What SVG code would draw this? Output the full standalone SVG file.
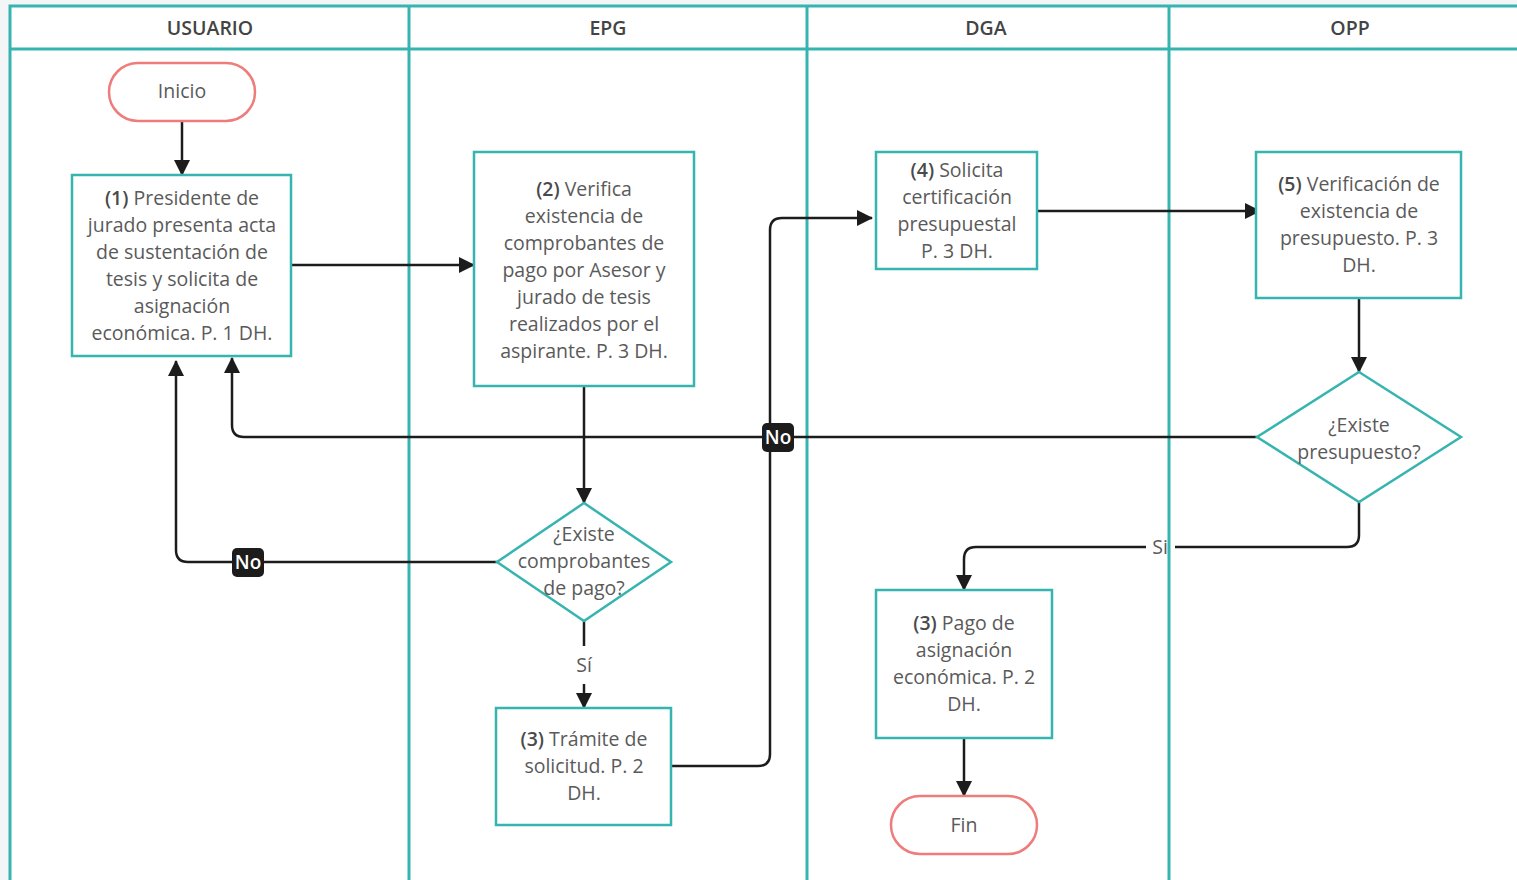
<svg xmlns="http://www.w3.org/2000/svg" width="1517" height="880" viewBox="0 0 1517 880">
<defs>
<style>
.lane{fill:none;stroke:#36b4af;stroke-width:3}
.hdr{font-family:"Open Sans","Noto Sans",sans-serif;font-size:19.5px;font-weight:600;fill:#444;text-anchor:middle}
.box{fill:#fff;stroke:#36b4af;stroke-width:2.5}
.term{fill:#fff;stroke:#f07b7b;stroke-width:2.5}
.t{font-family:"Open Sans","Noto Sans",sans-serif;font-size:19.5px;fill:#5a5a5a;text-anchor:middle}
.b{font-weight:600;fill:#4a4a4a}
.c{fill:none;stroke:#1c1c1c;stroke-width:2.5}
.lblbox{fill:#1c1c1c}
.lbl{font-family:"Open Sans","Noto Sans",sans-serif;font-size:19px;font-weight:600;fill:#fff;text-anchor:middle}
.lbl2{font-family:"Open Sans","Noto Sans",sans-serif;font-size:19.5px;fill:#5a5a5a;text-anchor:middle}
</style>
<marker id="ah" markerUnits="userSpaceOnUse" markerWidth="16" markerHeight="16" viewBox="0 0 16 16" refX="15" refY="8" orient="auto">
<path d="M0,0 L16,8 L0,16 z" fill="#1c1c1c"/>
</marker>
</defs>
<rect x="0" y="0" width="1517" height="880" fill="#f4f5f7"/>
<rect x="10" y="6" width="1507" height="874" fill="#fff"/>
<g id="lanes">
<path class="lane" d="M10,880 V6 H1517"/>
<path class="lane" d="M10,49 H1517"/>
<path class="lane" d="M409,6 V880 M807,6 V880 M1169,6 V880"/>
<text class="hdr" x="210" y="35">USUARIO</text>
<text class="hdr" x="608" y="35">EPG</text>
<text class="hdr" x="986" y="35">DGA</text>
<text class="hdr" x="1350" y="35">OPP</text>
</g>
<g id="connectors">
<path class="c" d="M182,121 V175" marker-end="url(#ah)"/>
<path class="c" d="M291,265 H474" marker-end="url(#ah)"/>
<path class="c" d="M584,386 V503" marker-end="url(#ah)"/>
<path class="c" d="M497,562 H188 Q176,562 176,550 V361" marker-end="url(#ah)"/>
<path class="c" d="M584,621 V646"/>
<path class="c" d="M584,684 V708" marker-end="url(#ah)"/>
<path class="c" d="M671,766 H758 Q770,766 770,754 V230 Q770,218 782,218 H872" marker-end="url(#ah)"/>
<path class="c" d="M1037,211 H1260" marker-end="url(#ah)"/>
<path class="c" d="M1359,298 V372" marker-end="url(#ah)"/>
<path class="c" d="M1257,437 H244 Q232,437 232,425 V358" marker-end="url(#ah)"/>
<path class="c" d="M1359,502 V535 Q1359,547 1347,547 H1175"/>
<path class="c" d="M1146,547 H976 Q964,547 964,559 V590" marker-end="url(#ah)"/>
<path class="c" d="M964,738 V796" marker-end="url(#ah)"/>
<rect class="lblbox" x="232" y="548" width="32" height="29" rx="5"/>
<text class="lbl" x="248" y="569">No</text>
<rect class="lblbox" x="762" y="423" width="32" height="29" rx="5"/>
<text class="lbl" x="778" y="444">No</text>
<text class="lbl2" x="584" y="672">Sí</text>
<text class="lbl2" x="1160" y="554">Si</text>
</g>
<g id="inicio">
<rect class="term" x="109" y="63" width="146" height="58" rx="29"/>
<text class="t" x="182" y="98">Inicio</text>
</g>
<g id="n1">
<rect class="box" x="72" y="175" width="219" height="181"/>
<text class="t"><tspan x="182" y="205"><tspan class="b">(1)</tspan> Presidente de</tspan><tspan x="182" y="232">jurado presenta acta</tspan><tspan x="182" y="259">de sustentación de</tspan><tspan x="182" y="286">tesis y solicita de</tspan><tspan x="182" y="313">asignación</tspan><tspan x="182" y="340">económica. P. 1 DH.</tspan></text>
</g>
<g id="n2">
<rect class="box" x="474" y="152" width="220" height="234"/>
<text class="t"><tspan x="584" y="196"><tspan class="b">(2)</tspan> Verifica</tspan><tspan x="584" y="223">existencia de</tspan><tspan x="584" y="250">comprobantes de</tspan><tspan x="584" y="277">pago por Asesor y</tspan><tspan x="584" y="304">jurado de tesis</tspan><tspan x="584" y="331">realizados por el</tspan><tspan x="584" y="358">aspirante. P. 3 DH.</tspan></text>
</g>
<g id="d1">
<polygon class="box" points="584,503 671,562 584,621 497,562"/>
<text class="t"><tspan x="584" y="541">¿Existe</tspan><tspan x="584" y="568">comprobantes</tspan><tspan x="584" y="595">de pago?</tspan></text>
</g>
<g id="n3a">
<rect class="box" x="496" y="708" width="175" height="117"/>
<text class="t"><tspan x="584" y="746"><tspan class="b">(3)</tspan> Trámite de</tspan><tspan x="584" y="773">solicitud. P. 2</tspan><tspan x="584" y="800">DH.</tspan></text>
</g>
<g id="n4">
<rect class="box" x="876" y="152" width="161" height="117"/>
<text class="t"><tspan x="957" y="177"><tspan class="b">(4)</tspan> Solicita</tspan><tspan x="957" y="204">certificación</tspan><tspan x="957" y="231">presupuestal</tspan><tspan x="957" y="258">P. 3 DH.</tspan></text>
</g>
<g id="n5">
<rect class="box" x="1256" y="152" width="205" height="146"/>
<text class="t"><tspan x="1359" y="191"><tspan class="b">(5)</tspan> Verificación de</tspan><tspan x="1359" y="218">existencia de</tspan><tspan x="1359" y="245">presupuesto. P. 3</tspan><tspan x="1359" y="272">DH.</tspan></text>
</g>
<g id="d2">
<polygon class="box" points="1359,372 1461,437 1359,502 1257,437"/>
<text class="t"><tspan x="1359" y="432">¿Existe</tspan><tspan x="1359" y="459">presupuesto?</tspan></text>
</g>
<g id="n3b">
<rect class="box" x="876" y="590" width="176" height="148"/>
<text class="t"><tspan x="964" y="630"><tspan class="b">(3)</tspan> Pago de</tspan><tspan x="964" y="657">asignación</tspan><tspan x="964" y="684">económica. P. 2</tspan><tspan x="964" y="711">DH.</tspan></text>
</g>
<g id="fin">
<rect class="term" x="891" y="796" width="146" height="58" rx="29"/>
<text class="t" x="964" y="832">Fin</text>
</g>
</svg>
